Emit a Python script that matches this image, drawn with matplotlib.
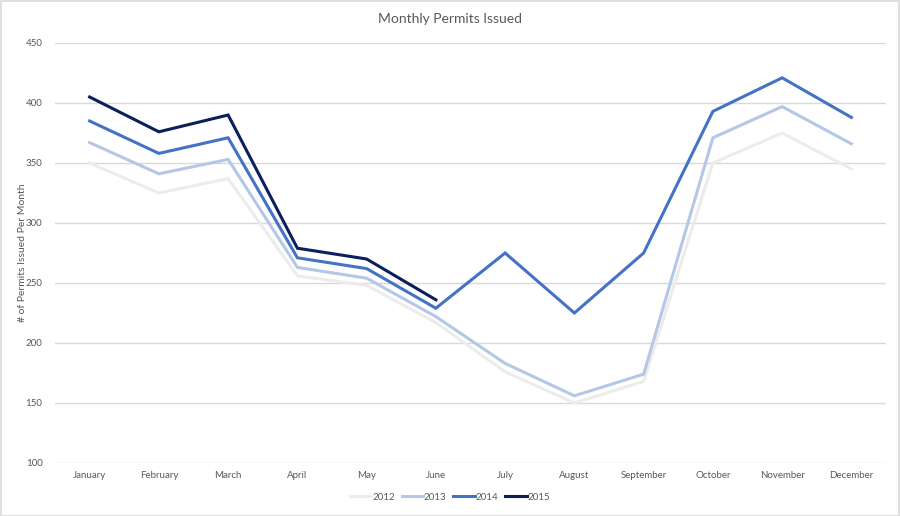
import matplotlib
matplotlib.use("Agg")
import matplotlib.pyplot as plt
from matplotlib.patches import Rectangle

months = ["January", "February", "March", "April", "May", "June", "July",
          "August", "September", "October", "November", "December"]
s2012 = [350, 325, 337, 256, 248, 217, 176, 150, 168, 350, 375, 345]
s2013 = [367, 341, 353, 263, 254, 222, 183, 156, 174, 371, 397, 366]
s2014 = [385, 358, 371, 271, 262, 229, 275, 225, 275, 393, 421, 388]
s2015 = [405, 376, 390, 279, 270, 236]
series = [("2012", s2012, "#ececec"), ("2013", s2013, "#b4c7e7"),
          ("2014", s2014, "#4472c4"), ("2015", s2015, "#0b1f5c")]
yticks = [100, 150, 200, 250, 300, 350, 400, 450]

plt.rcParams['font.family'] = ['Lato', 'DejaVu Sans']
W, H = 900, 516
fig = plt.figure(figsize=(W / 100, H / 100), dpi=100)
fig.patches.append(Rectangle((0.5 / W, 0.5 / H), 1 - 1.5 / W, 1 - 1.5 / H,
                             transform=fig.transFigure, fill=False,
                             edgecolor="#d9d9d9", linewidth=1.2))
ax = fig.add_axes([55 / W, 1 - 463 / H, (886 - 55) / W, (463 - 43) / H])

x = list(range(len(months)))
for name, vals, col in series:
    ax.plot(x[:len(vals)], vals, color=col, linewidth=2.2, label=name,
            solid_joinstyle="miter")

ax.set_xlim(-0.5, 11.5)
ax.set_ylim(100, 450)
ax.set_yticks(yticks)
ax.set_xticks(x)
ax.set_xticklabels(months)
ax.grid(axis="y", color="#d9d9d9", linewidth=1)
ax.set_axisbelow(True)
for sp in ax.spines.values():
    sp.set_visible(False)
ax.tick_params(axis="both", length=0, labelsize=7, colors="#595959")
ax.tick_params(axis="x", pad=6)
ax.tick_params(axis="y", pad=9)
ax.set_ylabel("# of Permits Issued Per Month", fontsize=7.5, color="#595959")
ax.yaxis.set_label_coords(-0.034, 0.5)
fig.text(0.5, 1 - 19 / H, "Monthly Permits Issued", ha="center", va="center",
         fontsize=10, color="#595959")
leg = fig.legend(loc="center", bbox_to_anchor=(0.5, 1 - 497 / H), ncol=4,
                 frameon=False, fontsize=7, handlelength=2.2,
                 handletextpad=0.1, columnspacing=0.7)
for t in leg.get_texts():
    t.set_color("#595959")

fig.savefig("out.png", dpi=100)
